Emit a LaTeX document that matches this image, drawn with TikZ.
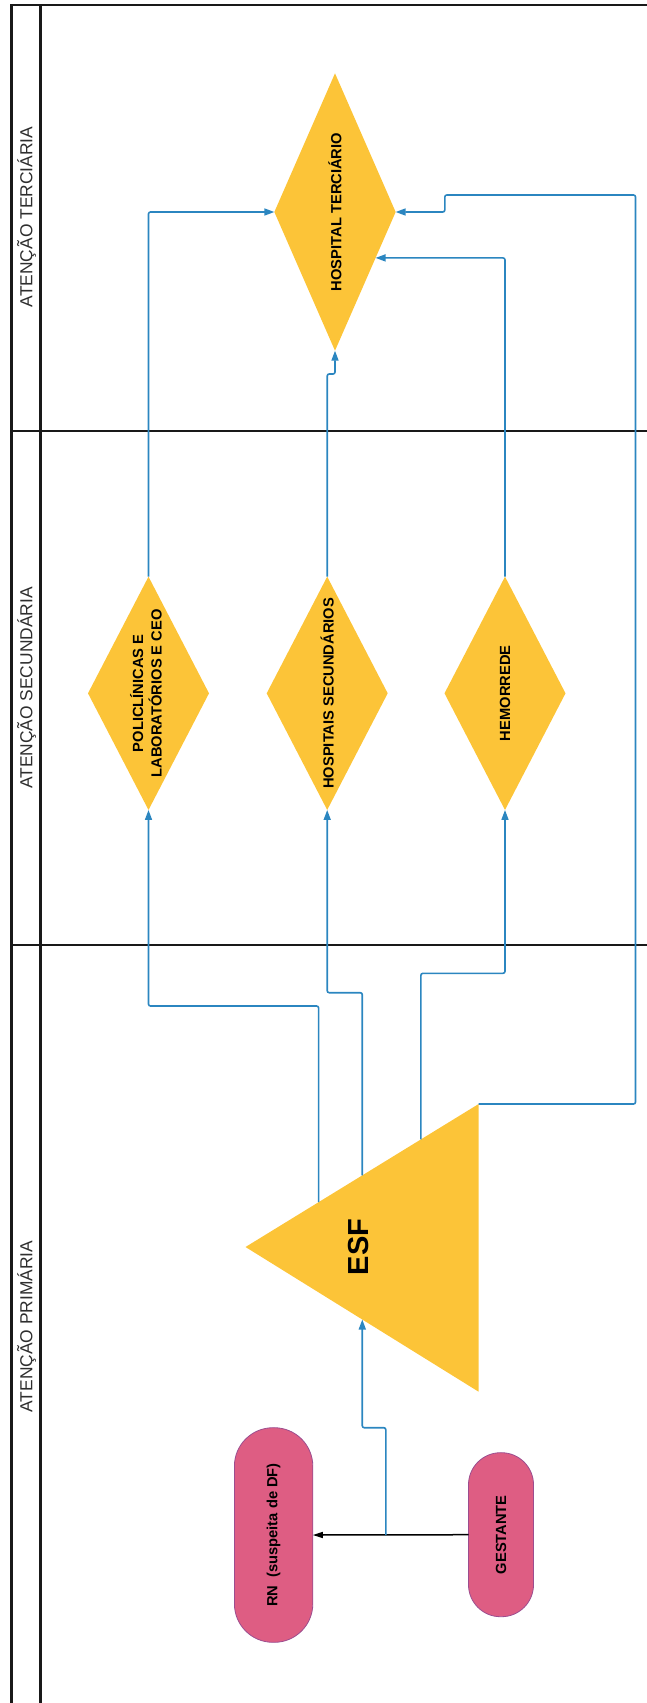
\documentclass[tikz,border=0pt]{standalone}
\usepackage{fontspec}
\setmainfont{Liberation Sans}
\usetikzlibrary{shapes.geometric,arrows.meta,calc}
\definecolor{yel}{HTML}{FCC438}
\definecolor{pnk}{HTML}{DE5D83}
\definecolor{pbd}{HTML}{9B4D8F}
\definecolor{lnb}{HTML}{2B86C0}
\definecolor{ttl}{HTML}{2E2E2E}
\newcommand\vtext[1]{\rotatebox{90}{\makebox[0pt]{#1}}}
\begin{document}
\begin{tikzpicture}[x=1pt,y=-1pt,
  frame/.style={line width=2.2pt,black!90},
  sepline/.style={line width=2pt,black!90},
  lane/.style={font=\fontsize{17.4}{20}\selectfont,text=ttl,inner sep=0},
  dia/.style={diamond,fill=yel,draw=none,inner sep=0,outer sep=0,font=\bfseries\fontsize{14.7}{17.6}\selectfont},
  term/.style={rectangle,fill=pnk,draw=pbd,line width=0.8pt,rounded corners=#1,inner sep=0,outer sep=0,font=\bfseries\fontsize{14.7}{17.6}\selectfont},
  conn/.style={draw=lnb,line width=1.6pt,rounded corners=2,-{Triangle[length=10pt,width=7pt]}},
  blk/.style={draw=black,line width=1.5pt,-{Triangle[length=10pt,width=6pt]}}
]
\useasboundingbox (0,0) rectangle (647,1703);
\clip (0,0) rectangle (647,1703);

% frame and lanes
\draw[frame] (11.4,1710) -- (11.4,4.7) -- (660,4.7);
\draw[frame] (40.4,4.7) -- (40.4,1710);
\draw[sepline] (11.4,430.7) -- (660,430.7);
\draw[sepline] (11.4,945.3) -- (660,945.3);

\node[lane,rotate=90] (t3) at (26.5,217) {ATENÇÃO TERCIÁRIA};
\node[lane,rotate=90] (t2) at (26.5,688) {ATENÇÃO SECUNDÁRIA};
\node[lane,rotate=90] (t1) at (26.5,1326.5) {ATENÇÃO PRIMÁRIA};

% diamonds
\node[dia,minimum width=121.3,minimum height=277.4] (ht) at (335,212) {\vtext{HOSPITAL TERCIÁRIO}};
\node[dia,minimum width=121,minimum height=233.3] (poli) at (148.5,693.3)
  {\vtext{\begin{tabular}{@{}c@{}}POLICLÍNICAS E\\LABORATÓRIOS E CEO\end{tabular}}};
\node[dia,minimum width=121,minimum height=233.3] (hs) at (327.2,693.3) {\vtext{HOSPITAIS SECUNDÁRIOS}};
\node[dia,minimum width=121,minimum height=233.3] (hem) at (505,693.3) {\vtext{HEMORREDE}};

% ESF triangle
\coordinate (eA) at (245.5,1247);
\coordinate (eB) at (478.6,1104);
\coordinate (eC) at (478.6,1391.7);
\fill[yel] (eA) -- (eB) -- (eC) -- cycle;
\node[font=\bfseries\fontsize{29}{34}\selectfont,inner sep=0] (esf) at (358.7,1247) {\vtext{ESF}};

% terminals
\node[term=38.5,minimum width=78.4,minimum height=214.6] (rn) at (273.6,1535) {\vtext{RN~~(suspeita de DF)}};
\node[term=32,minimum width=65,minimum height=164] (gest) at (501,1534.7) {\vtext{GESTANTE}};

% helper coordinates
\coordinate (p1) at ($(eA)!0.3136!(eB)$);
\coordinate (p2) at ($(eA)!0.501!(eB)$);
\coordinate (p3) at ($(eA)!0.7525!(eB)$);
\coordinate (p5) at ($(eA)!0.501!(eC)$);
\coordinate (j) at (385.8,1535);
\coordinate (htse) at ($(ht.east)!0.331!(ht.south)$);

% connectors
\draw[blk] (gest.west) -- (rn.east);
\draw[conn] (j) -- (j |- 0,1427.7) -| (p5);
\draw[conn] (p1) -- (p1 |- 0,1006) -| (poli.south);
\draw[conn] (p2) -- (p2 |- 0,992.7) -| (hs.south);
\draw[conn] (p3) -- (p3 |- 0,973.3) -| (hem.south);
\draw[conn] (eB) -- (635.5,1104) |- (444.8,195) |- (ht.east);
\draw[conn] (poli.north) |- (ht.west);
\draw[conn] (hs.north) -- (hs.north |- 0,374) -| (ht.south);
\draw[conn] (hem.north) |- (htse);
\end{tikzpicture}
\end{document}
